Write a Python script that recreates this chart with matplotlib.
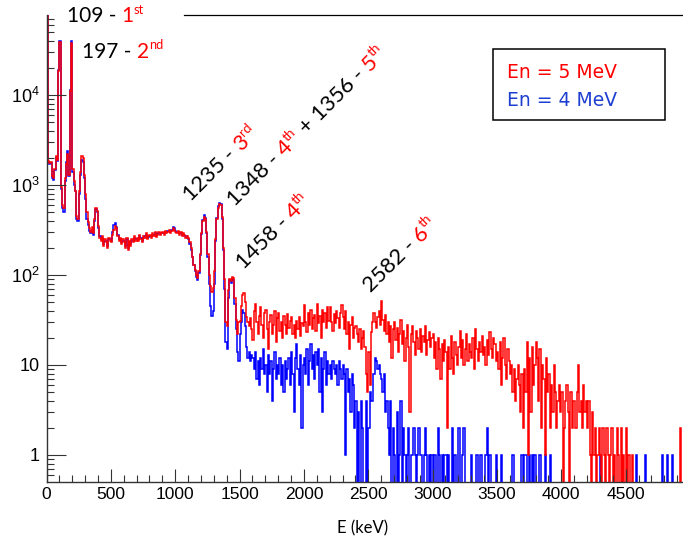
import numpy as np
import matplotlib
matplotlib.use("Agg")
import matplotlib.pyplot as plt
from matplotlib.font_manager import FontProperties
from matplotlib.lines import Line2D
from matplotlib.patches import Rectangle
from matplotlib.ticker import FixedLocator, FixedFormatter, MultipleLocator, LogLocator, NullFormatter

# ---------------- data (counts per 10 keV bin) -------------
bin_width_kev = 10
e_max_kev = 5000

red_counts_low = [  # En = 5 MeV, 0 - 1500 keV
    300000, 1850, 1750, 1800, 1250, 1200, 1500, 2100, 1900, 18500,
    39000, 950, 600, 550, 1200, 1700, 2200, 1300, 11000, 38000,
    1500, 1100, 850, 450, 420, 850, 1400, 2100, 2000, 1300,
    800, 500, 390, 330, 300, 340, 290, 420, 550, 520,
    350, 260, 240, 270, 210, 250, 230, 200, 260, 240,
    230, 280, 320, 350, 330, 270, 240, 260, 220, 250,
    230, 200, 260, 190, 240, 210, 250, 230, 270, 240,
    260, 240, 280, 250, 230, 270, 260, 290, 250, 270,
    280, 260, 290, 270, 300, 265, 280, 300, 275, 290,
    300, 280, 310, 290, 300, 320, 295, 310, 330, 320,
    300, 290, 310, 280, 300, 270, 290, 280, 260, 270,
    260, 230, 200, 160, 130, 115, 100, 92, 110, 170,
    290, 400, 445, 420, 300, 170, 100, 75, 65, 72,
    110, 250, 420, 560, 610, 600, 440, 200, 90, 30,
    27, 68, 90, 85, 95, 92, 55, 32, 22, 30,
]
red_counts_high = [  # En = 5 MeV, 1500 - 5000 keV
    31, 45, 60, 63, 50, 34, 30, 27, 33, 25,
    19, 40, 48, 30, 22, 35, 44, 28, 20, 38,
    41, 25, 15, 30, 36, 22, 28, 40, 18, 33,
    38, 24, 30, 20, 35, 28, 22, 37, 26, 31,
    34, 22, 28, 20, 31, 25, 34, 21, 29, 27,
    46, 30, 23, 38, 28, 41, 25, 33, 36, 24,
    48, 29, 35, 20, 41, 30, 38, 26, 44, 31,
    44, 30, 24, 37, 29, 40, 33, 26, 38, 46,
    34, 25, 40, 22, 30, 15, 28, 34, 20, 26,
    27, 22, 18, 25, 15, 20, 24, 16, 8, 5,
    14, 6, 23, 30, 38, 30, 26, 34, 40, 28,
    52, 32, 24, 36, 22, 30, 18, 27, 12, 25,
    30, 19, 26, 14, 22, 32, 17, 24, 11, 20,
    28, 16, 3, 22, 27, 18, 13, 24, 20, 15,
    25, 14, 21, 18, 27, 13, 19, 23, 16, 20,
    22, 12, 18, 9, 20, 15, 7, 17, 11, 19,
    14, 2, 16, 9, 21, 12, 8, 18, 13, 10,
    16, 24, 12, 19, 10, 15, 22, 11, 17, 14,
    12, 20, 9, 25, 15, 11, 18, 14, 21, 13,
    16, 10, 19, 13, 23, 15, 12, 20, 17, 11,
    14, 9, 18, 6, 12, 20, 10, 7, 15, 11,
    8, 10, 5, 9, 4, 7, 10, 6, 3, 8,
    2, 9, 5, 18, 1, 12, 3, 16, 6, 10,
    18, 12, 4, 15, 2, 10, 7, 1, 12, 5,
    8, 2, 6, 3, 10, 5, 2, 4, 6, 3,
    5, 0, 2, 4, 6, 3, 0, 5, 2, 4,
    4, 2, 5, 10, 3, 4, 2, 6, 3, 4,
    2, 4, 1, 0, 3, 1, 2, 0, 1, 2,
    1, 0, 2, 1, 0, 2, 1, 0, 1, 2,
    0, 1, 0, 2, 1, 0, 2, 0, 1, 0,
    2, 0, 1, 0, 0, 1, 0, 0, 0, 0,
    0, 0, 0, 0, 0, 0, 0, 0, 0, 0,
    0, 0, 0, 0, 0, 0, 0, 0, 0, 0,
    0, 0, 0, 0, 0, 0, 0, 0, 0, 0,
    0, 0, 2, 0, 0, 0, 0, 0, 0, 0,
]
blue_counts_low = [  # En = 4 MeV, 0 - 1500 keV
    300000, 1800, 1700, 1750, 1200, 1150, 1450, 2050, 1850, 19000,
    40000, 900, 550, 500, 1100, 1800, 2400, 1250, 11500, 40000,
    1400, 1000, 850, 420, 400, 800, 1300, 1900, 1800, 1200,
    700, 420, 360, 310, 290, 320, 280, 400, 540, 500,
    330, 270, 250, 260, 220, 240, 240, 210, 250, 250,
    240, 300, 360, 380, 340, 280, 250, 250, 230, 240,
    240, 210, 250, 200, 230, 220, 240, 240, 260, 250,
    250, 250, 270, 260, 240, 260, 270, 280, 260, 265,
    270, 270, 280, 280, 290, 275, 285, 290, 285, 295,
    290, 290, 300, 300, 310, 310, 305, 320, 340, 330,
    310, 300, 300, 290, 290, 280, 280, 270, 270, 260,
    250, 220, 190, 160, 130, 110, 95, 88, 105, 165,
    285, 410, 460, 430, 290, 160, 80, 45, 35, 40,
    80, 240, 430, 580, 630, 610, 420, 190, 70, 18,
    15, 55, 88, 82, 92, 88, 48, 25, 14, 11,
]
blue_counts_high = [  # En = 4 MeV, 1500 - 5000 keV
    22, 30, 41, 38, 27, 16, 12, 14, 11, 13,
    12, 9, 14, 7, 11, 6, 12, 9, 15, 8,
    10, 5, 13, 8, 11, 4, 9, 14, 7, 10,
    8, 12, 6, 10, 5, 11, 7, 9, 12, 6,
    14, 8, 3, 12, 17, 9, 6, 13, 2, 10,
    12, 8, 15, 6, 11, 17, 9, 13, 7, 14,
    10, 15, 5, 12, 3, 9, 14, 6, 11, 8,
    10, 7, 11, 9, 8, 10, 6, 11, 9, 7,
    10, 8, 1, 9, 5, 7, 3, 8, 6, 2,
    4, 0, 3, 0, 4, 2, 0, 0, 4, 0,
    2, 5, 4, 4, 8, 12, 11, 9, 10, 8,
    7, 5, 8, 3, 4, 2, 1, 4, 0, 2,
    1, 0, 3, 0, 1, 4, 0, 2, 1, 0,
    1, 2, 0, 1, 1, 2, 1, 0, 1, 2,
    1, 1, 0, 1, 2, 1, 0, 1, 0, 1,
    0, 1, 1, 0, 2, 1, 0, 1, 0, 1,
    1, 0, 1, 0, 0, 2, 0, 1, 0, 0,
    2, 0, 0, 1, 2, 0, 0, 0, 0, 0,
    1, 0, 0, 0, 1, 0, 0, 1, 0, 0,
    0, 1, 2, 0, 1, 0, 0, 0, 0, 1,
    0, 0, 0, 1, 0, 0, 0, 0, 0, 0,
    0, 0, 1, 0, 0, 0, 0, 0, 0, 1,
    0, 1, 1, 0, 0, 1, 0, 1, 0, 1,
    0, 0, 0, 1, 0, 0, 0, 1, 0, 0,
    0, 1, 0, 0, 0, 0, 0, 0, 0, 0,
    0, 0, 0, 0, 0, 0, 0, 0, 0, 0,
    0, 0, 0, 0, 0, 0, 0, 0, 0, 0,
    0, 0, 0, 0, 0, 0, 0, 0, 0, 0,
    1, 0, 0, 0, 0, 0, 0, 0, 0, 0,
    0, 0, 0, 0, 0, 0, 0, 0, 0, 0,
    0, 0, 0, 0, 0, 0, 0, 0, 1, 0,
    0, 0, 0, 0, 0, 1, 0, 0, 0, 0,
    0, 0, 0, 0, 0, 0, 0, 0, 1, 0,
    0, 0, 1, 0, 0, 0, 1, 0, 0, 0,
    0, 0, 0, 0, 0, 0, 0, 0, 0, 0,
]

x_tick_values = [0, 500, 1000, 1500, 2000, 2500, 3000, 3500, 4000, 4500]
y_tick_values = [1, 10, 100, 1000, 10000]
y_tick_labels = ["1", "10", r"$\mathregular{10^{2}}$", r"$\mathregular{10^{3}}$", r"$\mathregular{10^{4}}$"]
x_title = "E (keV)"
legend_labels = ["En = 5 MeV", "En = 4 MeV"]

annotations = [
    # (baseline start px, angle, [(text, colour-key, superscript)])
    ((67, 22.5), 0, [("109 - ", "k", False), ("1", "r", False), ("st", "r", True)]),
    ((82, 57.5), 0, [("197 - ", "k", False), ("2", "r", False), ("nd", "r", True)]),
    ((191, 202), 45, [("1235 - ", "k", False), ("3", "r", False), ("rd", "r", True)]),
    ((235, 207), 45, [("1348 - ", "k", False), ("4", "r", False), ("th", "r", True),
                      (" + 1356 - ", "k", False), ("5", "r", False), ("th", "r", True)]),
    ((244, 270), 45, [("1458 - ", "k", False), ("4", "r", False), ("th", "r", True)]),
    ((371, 293), 45, [("2582 - ", "k", False), ("6", "r", False), ("th", "r", True)]),
]

# ---------------- figure ---------------------------------------------------------
W, H, DPI = 683, 545, 100
plt.rcParams["mathtext.fontset"] = "custom"
plt.rcParams["mathtext.rm"] = "Liberation Sans"
plt.rcParams["mathtext.it"] = "Liberation Sans:italic"
plt.rcParams["mathtext.bf"] = "Liberation Sans:bold"

fig = plt.figure(figsize=(W / DPI, H / DPI), dpi=DPI)
fig.patch.set_facecolor("white")

x0_px, x_px_per_kev = 46.5, 0.1287
top_px, bot_px = 15.0, 481.7
ax = fig.add_axes([x0_px / W, 1 - bot_px / H, e_max_kev * x_px_per_kev / W, (bot_px - top_px) / H])

edges = np.arange(0, e_max_kev + bin_width_kev, bin_width_kev)
red = np.array(red_counts_low + red_counts_high, dtype=float)
blue = np.array(blue_counts_low + blue_counts_high, dtype=float)

ax.set_yscale("log", nonpositive="clip")
ax.stairs(blue, edges, color="#0000ff", lw=1.1, baseline=0, fill=False)
ax.stairs(red, edges, color="#ff0000", lw=1.1, baseline=0, fill=False)

ax.set_xlim(0, e_max_kev)
ax.set_ylim(0.505, 77400)

# axes styling (ROOT-like)
for s in ["top", "right"]:
    ax.spines[s].set_visible(False)
for s in ["left", "bottom"]:
    ax.spines[s].set_color("#333333")
    ax.spines[s].set_linewidth(1.0)

ax.xaxis.set_major_locator(FixedLocator(x_tick_values))
ax.xaxis.set_minor_locator(MultipleLocator(100))
ax.yaxis.set_major_locator(FixedLocator(y_tick_values))
ax.yaxis.set_major_formatter(FixedFormatter(y_tick_labels))
ax.yaxis.set_minor_locator(LogLocator(base=10, subs=np.arange(2, 10), numticks=20))
ax.yaxis.set_minor_formatter(NullFormatter())

tickfont = "Liberation Sans"
ax.tick_params(axis="x", which="major", direction="in", length=9.4, width=0.8, color="#333333",
               labelsize=12.5, pad=4.0)
ax.tick_params(axis="x", which="minor", direction="in", length=4.7, width=0.8, color="#333333")
ax.tick_params(axis="y", which="major", direction="in", length=13.7, width=0.8, color="#333333",
               labelsize=13, pad=5.0)
ax.tick_params(axis="y", which="minor", direction="in", length=5.0, width=0.8, color="#333333")
for lab in ax.get_xticklabels() + ax.get_yticklabels():
    lab.set_fontfamily(tickfont)

# top frame line (partly hidden behind the first label in the reference)
fig.add_artist(Line2D([184 / W, 1.0], [1 - top_px / H, 1 - top_px / H], color="black", lw=0.9))

# x title
fig.text(363 / W, 1 - 528 / H, x_title, ha="center", va="center", fontsize=12, family="Lato", color="black")

# legend box
fig.add_artist(Rectangle((493 / W, 1 - 120 / H), (665 - 493) / W, (120 - 49) / H,
                         transform=fig.transFigure, facecolor="white", edgecolor="black", lw=1.1))
fig.text(507 / W, 1 - 78 / H, legend_labels[0], ha="left", va="baseline", fontsize=13.5,
         family="DejaVu Sans", color="#ff0000")
fig.text(507 / W, 1 - 105.5 / H, legend_labels[1], ha="left", va="baseline", fontsize=13.5,
         family="DejaVu Sans", color="#1c3fd1")

# rich annotations
colors = {"k": "#000000", "r": "#ff0000"}
renderer = fig.canvas.get_renderer()
ann_family = "Lato"


def draw_rich(start, angle, parts, size):
    xs, ys = start[0], H - start[1]
    th = np.deg2rad(angle)
    ux, uy = np.cos(th), np.sin(th)
    px, py = -np.sin(th), np.cos(th)
    adv = 0.0
    for txt, ck, sup in parts:
        fs = size * 0.62 if sup else size
        rise = size * 0.40 * DPI / 72 if sup else 0.0
        X = xs + adv * ux + rise * px
        Y = ys + adv * uy + rise * py
        fig.text(X / W, Y / H, txt, color=colors[ck], fontsize=fs, family=ann_family,
                 rotation=angle, rotation_mode="anchor", ha="left", va="baseline")
        prop = FontProperties(family=ann_family, size=fs)
        w, _, _ = renderer.get_text_width_height_descent(txt, prop, ismath=False)
        adv += w


for start, angle, parts in annotations:
    draw_rich(start, angle, parts, 15.0 if angle == 0 else 15.8)

fig.savefig("out.png", dpi=DPI, facecolor="white")
